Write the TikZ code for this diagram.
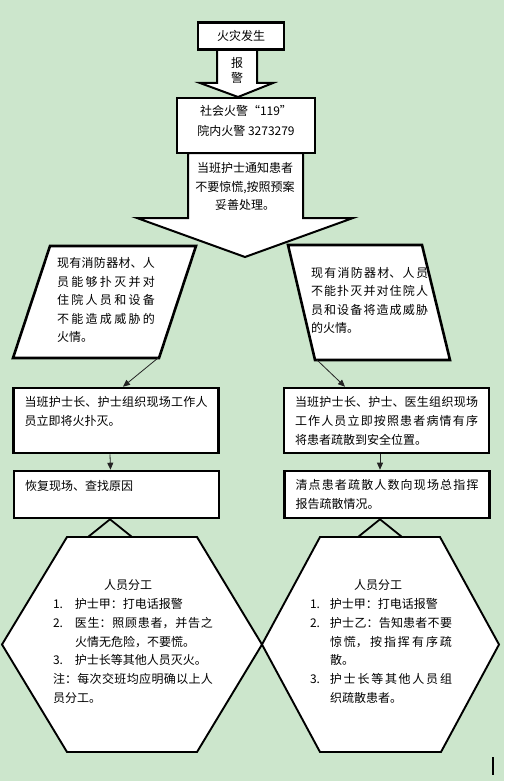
\documentclass[tikz,border=0pt]{standalone}
\usepackage{fontspec}
\setmainfont{Noto Sans CJK SC}
\XeTeXlinebreaklocale "zh"
\XeTeXlinebreakskip=0pt plus 3pt
\hbadness=10000
\setlength{\parindent}{0pt}
\usetikzlibrary{arrows.meta,positioning,calc}
\definecolor{pagegreen}{RGB}{204,230,204}
\definecolor{inkgray}{RGB}{35,35,35}
\newcommand{\hexitem}[3]{\hangindent=#1\hangafter=1\makebox[#1][l]{#2}#3\par}
\tikzset{
  basebox/.style={rectangle,draw=black,fill=white,line width=2.6pt,inner sep=0pt,font=\fontsize{12}{19}\selectfont},
  topbox/.style={basebox,minimum width=86pt,minimum height=27pt},
  callbox/.style={basebox,minimum width=138pt,minimum height=55pt,align=center,font=\fontsize{12}{20}\selectfont},
  stepbox/.style={basebox,text width=183pt,inner xsep=11pt,align=justify},
  arrowtext/.style={inner sep=0pt,align=center,font=\fontsize{12}{18.5}\selectfont},
  paratext/.style={inner sep=0pt,align=justify,font=\fontsize{12}{18.5}\selectfont},
  hextext/.style={inner sep=0pt,align=justify,font=\fontsize{12}{18.8}\selectfont},
  fatarrow/.style={draw=black,fill=white,line width=2pt,line join=miter},
  paraline/.style={draw=black,fill=white,line width=2.6pt,line join=miter},
  hexline/.style={draw=black,fill=white,line width=1.9pt,line join=miter},
  arr/.style={-{Triangle[length=7pt,width=6pt]},line width=0.8pt,color=inkgray},
  tieline/.style={line width=1.8pt,color=black}
}

\begin{document}
\begin{tikzpicture}[x=1pt,y=-1pt]
  \fill[pagegreen] (0,0) rectangle (504,781);
  \useasboundingbox (0,0) rectangle (504,781);
  \draw[fatarrow] (217,49) -- (257,49) -- (257,83) -- (273,83) -- (238,97) -- (200,83) -- (217,83) -- cycle;
  \draw[fatarrow] (188,153) -- (303,153) -- (303,218) -- (353,218) -- (245,257) -- (137,218) -- (188,218) -- cycle;
  \node[topbox] (fire) at (241,36) {火灾发生};
  \node[arrowtext,font=\fontsize{12}{15}\selectfont] (alarm) at (237,70.5) {报\\警};
  \node[callbox] (call) at (246,125.5) {社会火警“119”\\院内火警 3273279\\[-9pt]\mbox{}};
  \node[arrowtext] (notify) at (245,186.5) {当班护士通知患者\\不要惊慌,按照预案\\妥善处理。};
  \draw[paraline] (50,246) -- (196,246) -- (159,358) -- (13,358) -- cycle;
  \draw[paraline] (288,245) -- (422,245) -- (450,360) -- (315,360) -- cycle;
  \coordinate (okout) at (158,358);
  \coordinate (badout) at (317,360);
  \node[paratext,text width=98pt] (canfight) at (106,300) {现有消防器材、人\linebreak 员能够扑灭并对\linebreak 住院人员和设备\linebreak 不能造成威胁的\linebreak 火情。};
  \node[paratext,text width=117pt] (cannot) at (369.5,300.5) {现有消防器材、人员\linebreak 不能扑灭并对住院人\linebreak 员和设备将造成威胁\linebreak 的火情。};
  \node[stepbox,minimum height=65pt] (fight) at (116,420.5) {当班护士长、护士组织现场工作人\linebreak 员立即将火扑灭。\\\mbox{}};
  \node[stepbox,minimum height=65pt] (evac) at (386.5,420.5) {当班护士长、护士、医生组织现场\linebreak 工作人员立即按照患者病情有序\linebreak 将患者疏散到安全位置。};
  \node[stepbox,minimum height=47pt] (restore) at (116.5,494.5) {恢复现场、查找原因\\\mbox{}};
  \node[stepbox,minimum height=47pt] (report) at (387,494.5) {清点患者疏散人数向现场总指挥\linebreak 报告疏散情况。};
  \draw[hexline] (67,537) -- (197,537) -- (262,644.5) -- (197,752) -- (67,752) -- (2,644.5) -- cycle;
  \draw[hexline] (320,537) -- (440,537) -- (499,644.5) -- (441,752) -- (320,752) -- (262,644.5) -- cycle;
  \coordinate (hexLa) at (88,537);
  \coordinate (hexLb) at (132,537);
  \coordinate (hexRa) at (358,537);
  \coordinate (hexRb) at (402,537);
  \node[hextext,text width=160pt] (dutyL) at (133,641.5) {\hspace*{51pt}人员分工\par
    \hexitem{22pt}{1.}{护士甲：打电话报警}
    \hexitem{22pt}{2.}{医生：照顾患者，并告之\linebreak 火情无危险，不要慌。}
    \hexitem{22pt}{3.}{护士长等其他人员灭火。}
    注：每次交班均应明确以上人\linebreak 员分工。};
  \node[hextext,text width=142pt] (dutyR) at (381,641.5) {\hspace*{44pt}人员分工\par
    \hexitem{20pt}{1.}{护士甲：打电话报警}
    \hexitem{20pt}{2.}{护士乙：告知患者不要\linebreak 惊慌，按指挥有序疏\linebreak 散。}
    \hexitem{20pt}{3.}{护士长等其他人员组\linebreak 织疏散患者。}};
  \draw[arr] (okout) -- ([xshift=7pt]fight.north);
  \draw[arr] (badout) -- ([xshift=-41.5pt]evac.north);
  \draw[arr] ([xshift=-6pt]fight.south) -- ([xshift=-6pt]restore.north);
  \draw[arr] ([xshift=-6.5pt]evac.south) -- ([xshift=-7pt]report.north);
  \draw[tieline] (hexLa) -- ([xshift=-6.5pt]restore.south) -- (hexLb);
  \draw[tieline] (hexRa) -- ([xshift=-7pt]report.south) -- (hexRb);
  \draw[line width=1.6pt] (493,757) -- (493,775);
\end{tikzpicture}
\end{document}
